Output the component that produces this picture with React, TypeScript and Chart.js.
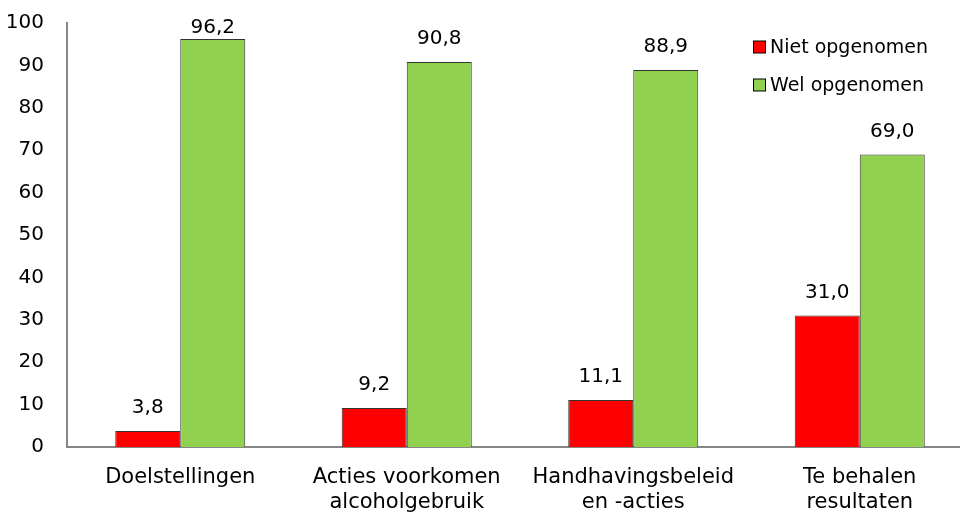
import React, { useEffect, useRef } from "react";
import { Chart, registerables } from "chart.js";

Chart.register(...registerables);

const categories: string[][] = [
  ["Doelstellingen"],
  ["Acties voorkomen", "alcoholgebruik"],
  ["Handhavingsbeleid", "en -acties"],
  ["Te behalen", "resultaten"],
];
const seriesNames = ["Niet opgenomen", "Wel opgenomen"];
const nietOpgenomen = [3.8, 9.2, 11.1, 31.0];
const welOpgenomen = [96.2, 90.8, 88.9, 69.0];
const yTicks = [0, 10, 20, 30, 40, 50, 60, 70, 80, 90, 100];

const RED = "#FF0000";
const GREEN = "#92D050";
const FONT = "'DejaVu Sans', sans-serif";

const labelPlugin = {
  id: "valueLabels",
  afterDatasetsDraw(chart: any) {
    const ctx = chart.ctx;
    ctx.save();
    ctx.font = `20px ${FONT}`;
    ctx.fillStyle = "#000";
    ctx.textAlign = "center";
    ctx.textBaseline = "middle";
    chart.data.datasets.forEach((ds: any, di: number) => {
      const meta = chart.getDatasetMeta(di);
      meta.data.forEach((bar: any, i: number) => {
        const v = ds.data[i];
        const y = Math.max(bar.y - 23, 28);
        ctx.fillText(v.toFixed(1).replace(".", ","), bar.x, y);
      });
    });
    ctx.restore();
  },
};

const legendPlugin = {
  id: "customLegend",
  afterDraw(chart: any) {
    const ctx = chart.ctx;
    ctx.save();
    ctx.font = `19px ${FONT}`;
    ctx.textAlign = "left";
    ctx.textBaseline = "middle";
    const rows = [47, 85];
    chart.data.datasets.forEach((ds: any, di: number) => {
      const cy = rows[di];
      ctx.fillStyle = ds.backgroundColor;
      ctx.fillRect(753.5, cy - 6, 12, 12);
      ctx.strokeStyle = "#000";
      ctx.lineWidth = 1;
      ctx.strokeRect(753.5, cy - 6, 12, 12);
      ctx.fillStyle = "#000";
      ctx.fillText(ds.label, 770, cy + 1);
    });
    ctx.restore();
  },
};

export default function App() {
  const ref = useRef<HTMLCanvasElement>(null);
  useEffect(() => {
    if (!ref.current) return;
    const chart = new Chart(ref.current, {
      type: "bar",
      data: {
        labels: categories,
        datasets: [
          {
            label: seriesNames[0],
            data: nietOpgenomen,
            backgroundColor: RED,
            borderColor: "#333",
            borderWidth: 1,
          },
          {
            label: seriesNames[1],
            data: welOpgenomen,
            backgroundColor: GREEN,
            borderColor: "#333",
            borderWidth: 1,
          },
        ],
      },
      options: {
        responsive: false,
        animation: false,
        devicePixelRatio: 1,
        layout: { padding: { top: 23, right: 27, left: 0, bottom: 0 } },
        datasets: {
          bar: { categoryPercentage: 0.574, barPercentage: 1.0 },
        } as any,
        plugins: {
          legend: { display: false },
          tooltip: { enabled: false },
        },
        scales: {
          x: {
            grid: { display: false, drawTicks: false },
            border: { display: true, color: "#868686", width: 2 },
            ticks: {
              color: "#000",
              font: { family: FONT, size: 21 },
              padding: 18,
              maxRotation: 0,
              autoSkip: false,
            },
            afterFit(scale: any) {
              scale.height = 66;
            },
          },
          y: {
            min: 0,
            max: 100,
            afterBuildTicks(scale: any) {
              scale.ticks = yTicks.map((v) => ({ value: v }));
            },
            grid: { display: false, drawTicks: true, tickLength: 23 },
            border: { display: true, color: "#868686", width: 2 },
            ticks: {
              color: "#000",
              font: { family: FONT, size: 20 },
              padding: 0,
            },
            afterFit(scale: any) {
              scale.width = 67;
            },
          },
        },
      },
      plugins: [labelPlugin, legendPlugin],
    });
    return () => chart.destroy();
  }, []);
  return (
    <div
      style={{
        position: "absolute",
        left: 0,
        top: 0,
        width: 960,
        height: 513,
        overflow: "hidden",
        background: "#fff",
      }}
    >
      <canvas ref={ref} width={1000} height={513} style={{ display: "block" }} />
    </div>
  );
}
